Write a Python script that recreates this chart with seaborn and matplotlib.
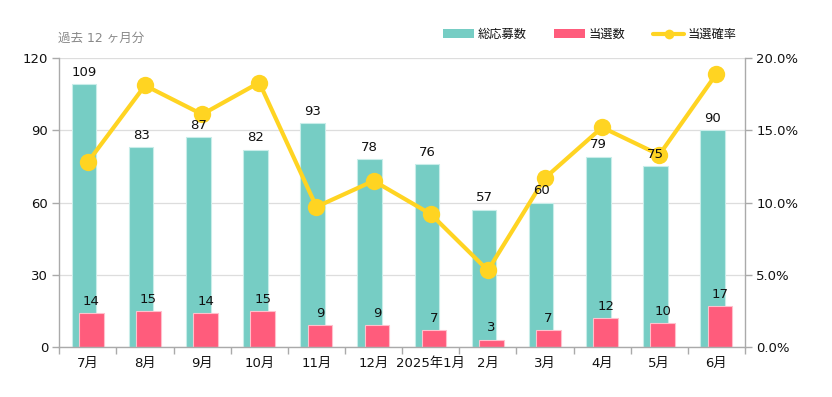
import numpy as np
import pandas as pd
import matplotlib
matplotlib.use("Agg")
import matplotlib.pyplot as plt
import seaborn as sns
from matplotlib.ticker import FuncFormatter, FixedLocator
from matplotlib.lines import Line2D
from matplotlib.patches import Patch

months = ["7月", "8月", "9月", "10月", "11月", "12月", "2025年1月", "2月", "3月", "4月", "5月", "6月"]
applications = [109, 83, 87, 82, 93, 78, 76, 57, 60, 79, 75, 90]
winners = [14, 15, 14, 15, 9, 9, 7, 3, 7, 12, 10, 17]
win_rate = [12.8, 18.1, 16.1, 18.3, 9.7, 11.5, 9.2, 5.3, 11.7, 15.2, 13.3, 18.9]

TEAL = "#76CDC4"
PINK = "#FF5C7C"
YELLOW = "#FFD422"
GRID = "#DDDDDD"
SPINE = "#AAAAAA"

sns.set_theme(style="white")
plt.rcParams["font.family"] = ["DejaVu Sans", "Noto Sans CJK JP"]

df = pd.DataFrame({"month": months, "apps": applications, "wins": winners, "rate": win_rate})

fig = plt.figure(figsize=(8.32, 3.97), dpi=100)
ax = fig.add_axes([59.3 / 832, 1 - 347 / 397, (745 - 59.3) / 832, (347 - 58) / 397])

bw = 0.43
sns.barplot(data=df, x="month", y="apps", color=TEAL, width=bw, saturation=1, ax=ax)
n = len(months)
sns.barplot(data=df, x="month", y="wins", color=PINK, width=bw, saturation=1, ax=ax)

off_t, off_p = -0.067, 0.061
for i, p in enumerate(ax.patches):
    if i < n:
        p.set_x(p.get_x() + off_t)
        p.set_edgecolor("#C8EDE9")
    else:
        p.set_x(p.get_x() + off_p)
        p.set_edgecolor("#FFC0CC")
    p.set_linewidth(0.8)

ax.set_xlim(-0.5, n - 0.5)
ax.set_ylim(0, 120)
ax.set_yticks([0, 30, 60, 90, 120])
ax.yaxis.grid(True, color=GRID, linewidth=0.9)
ax.set_axisbelow(True)
ax.set_xlabel("")
ax.set_ylabel("")
ax.tick_params(axis="x", which="major", length=0, pad=7, labelsize=9.5, labelcolor="#111111")
ax.xaxis.set_minor_locator(FixedLocator(np.arange(-0.5, n, 1.0)))
ax.tick_params(axis="x", which="minor", length=5, color=SPINE, width=1, bottom=True)
ax.tick_params(axis="y", length=5, color=SPINE, width=1, left=True, labelsize=9.5, labelcolor="#111111", pad=3)
for s in ["left", "bottom"]:
    ax.spines[s].set_color(SPINE)
    ax.spines[s].set_linewidth(1)
ax.spines["top"].set_visible(False)
ax.spines["right"].set_visible(False)

ax2 = ax.twinx()
sns.lineplot(x=np.arange(n), y=win_rate, color=YELLOW, linewidth=3, marker="o",
             markersize=12.5, markeredgewidth=0, ax=ax2)
ax2.set_ylim(0, 20)
ax2.set_yticks([0, 5, 10, 15, 20])
ax2.yaxis.set_major_formatter(FuncFormatter(lambda v, _: f"{v:.1f}%"))
ax2.tick_params(axis="y", length=5, color=SPINE, width=1, right=True, labelsize=9.5, labelcolor="#111111", pad=3)
ax2.spines["right"].set_color(SPINE)
ax2.spines["right"].set_linewidth(1)
for s in ["left", "top", "bottom"]:
    ax2.spines[s].set_visible(False)
ax2.grid(False)
ax2.set_xlim(-0.5, n - 0.5)

# value labels drawn above the line
for i, p in enumerate(ax.patches):
    cx = p.get_x() + p.get_width() / 2
    h = p.get_height()
    ax2.text(cx, h + 2.2, f"{int(round(h))}", ha="center", va="bottom", fontsize=9.5,
             color="#111111", transform=ax.transData, zorder=10)

fig.text(58 / 832, 1 - 38 / 397, "過去 12 ヶ月分", fontsize=9, color="#888888",
         ha="left", va="center", family=["DejaVu Sans", "Noto Sans CJK JP"])

handles = [
    Patch(facecolor=TEAL, edgecolor="none"),
    Patch(facecolor=PINK, edgecolor="none"),
    Line2D([0], [0], color=YELLOW, linewidth=3, marker="o", markersize=7, markeredgewidth=0),
]
leg = fig.legend(handles, ["総応募数", "当選数", "当選確率"], loc="center left",
                 bbox_to_anchor=(432 / 832, 1 - 34.5 / 397), ncol=3, frameon=False,
                 handlelength=2.5, handleheight=0.7, handletextpad=0.3, columnspacing=2.3,
                 fontsize=8.8)
for t in leg.get_texts():
    t.set_color("#111111")

fig.savefig("out.png", dpi=100)
